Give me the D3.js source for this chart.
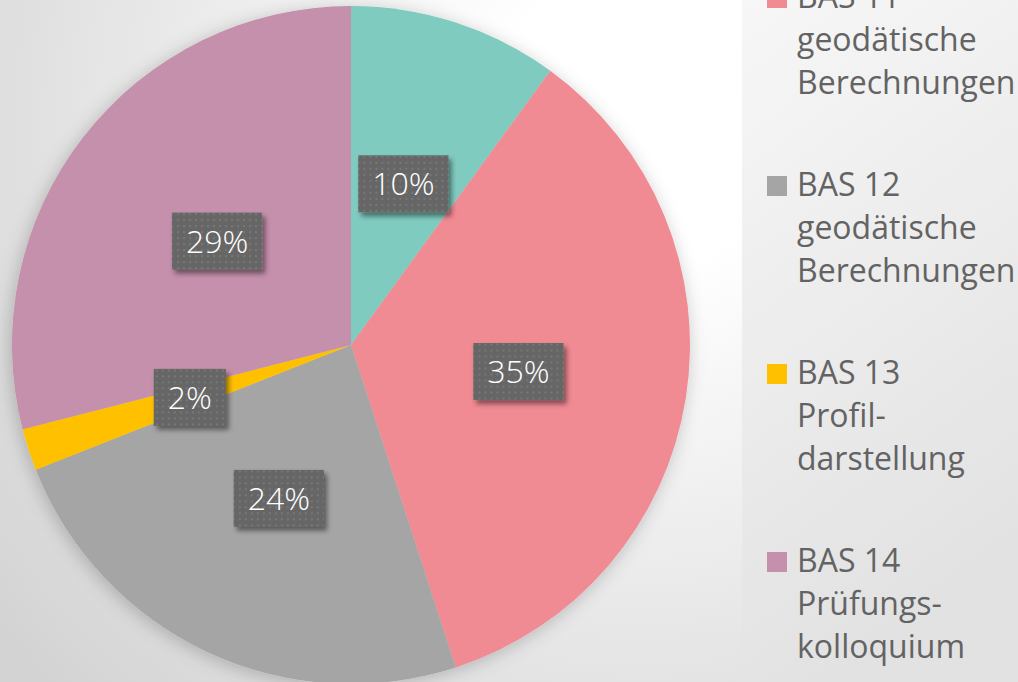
<!DOCTYPE html>
<html>
<head>
<meta charset="utf-8">
<script src="https://cdn.jsdelivr.net/npm/d3@7"></script>
<style>
  html, body { margin: 0; padding: 0; overflow: hidden; }
  svg { display: block; font-family: "Open Sans", "Noto Sans", sans-serif; }
</style>
</head>
<body>
<div id="chart"></div>
<script>
// module share data
const modules = ['BAS 10', 'BAS 11', 'BAS 12', 'BAS 13', 'BAS 14'];
const shares = [10, 35, 24, 2, 29];
const legendLines = [
    ['BAS 10', 'Grundlagen'],
    ['BAS 11', 'geodätische', 'Berechnungen'],
    ['BAS 12', 'geodätische', 'Berechnungen'],
    ['BAS 13', 'Profil-', 'darstellung'],
    ['BAS 14', 'Prüfungs-', 'kolloquium']
];
const colors = ['#80cbc0', '#f08a93', '#a5a5a5', '#ffc000', '#c490ab'];

const width = 1018, height = 682;
const cx = 351, cy = 345, radius = 339;

const svg = d3.select("#chart")
    .append("svg")
    .attr("width", width)
    .attr("height", height);

const defs = svg.append("defs");

// background gradient
const bg = defs.append("radialGradient")
    .attr("id", "bgGrad")
    .attr("gradientUnits", "userSpaceOnUse")
    .attr("cx", 640).attr("cy", 120).attr("r", 820);
bg.append("stop").attr("offset", "0%").attr("stop-color", "#ffffff");
bg.append("stop").attr("offset", "18%").attr("stop-color", "#ffffff");
bg.append("stop").attr("offset", "100%").attr("stop-color", "#d3d3d3");

const legGrad = defs.append("linearGradient")
    .attr("id", "legGrad")
    .attr("x1", 0).attr("y1", 0).attr("x2", 0.3).attr("y2", 1);
legGrad.append("stop").attr("offset", "0%").attr("stop-color", "#f7f7f7");
legGrad.append("stop").attr("offset", "100%").attr("stop-color", "#e2e2e2");

// soft glow under the pie
const pieShadow = defs.append("filter")
    .attr("id", "pieShadow")
    .attr("x", "-10%").attr("y", "-10%").attr("width", "120%").attr("height", "120%");
pieShadow.append("feDropShadow")
    .attr("dx", -2).attr("dy", 3)
    .attr("stdDeviation", 9)
    .attr("flood-color", "#000")
    .attr("flood-opacity", 0.22);

// label box shadow
const boxShadow = defs.append("filter")
    .attr("id", "boxShadow")
    .attr("x", "-20%").attr("y", "-20%").attr("width", "150%").attr("height", "160%");
boxShadow.append("feDropShadow")
    .attr("dx", 3).attr("dy", 4)
    .attr("stdDeviation", 2.5)
    .attr("flood-color", "#000")
    .attr("flood-opacity", 0.45);

// dotted pattern for label boxes
const dots = defs.append("pattern")
    .attr("id", "dots")
    .attr("patternUnits", "userSpaceOnUse")
    .attr("width", 6).attr("height", 6);
dots.append("rect").attr("width", 6).attr("height", 6).attr("fill", "#666666");
dots.append("rect").attr("x", 2).attr("y", 2).attr("width", 2).attr("height", 2).attr("fill", "#777777");

svg.append("rect")
    .attr("width", width).attr("height", height)
    .attr("fill", "url(#bgGrad)");

svg.append("rect")
    .attr("x", 742).attr("y", 0)
    .attr("width", width - 742).attr("height", height)
    .attr("fill", "url(#legGrad)");

// Pie
const pie = d3.pie().sort(null).value(d => d);
const arc = d3.arc().innerRadius(0).outerRadius(radius);
const arcs = pie(shares);

const g = svg.append("g")
    .attr("transform", `translate(${cx},${cy})`);

g.append("g")
    .attr("filter", "url(#pieShadow)")
    .selectAll("path")
    .data(arcs)
    .enter()
    .append("path")
    .attr("d", arc)
    .attr("fill", (d, i) => colors[i]);

// Data labels
const labels = g.selectAll(".lbl")
    .data(arcs)
    .enter()
    .append("g")
    .attr("class", "lbl")
    .attr("transform", d => `translate(${arc.centroid(d)})`);

labels.each(function(d) {
    const sel = d3.select(this);
    const txt = sel.append("text")
        .attr("text-anchor", "middle")
        .attr("y", 11.5)
        .attr("fill", "#ffffff")
        .attr("font-size", 32)
        .attr("font-weight", 300)
        .text(d.data + "%");
    const w = txt.node().getComputedTextLength() + 28;
    sel.insert("rect", "text")
        .attr("x", -w / 2)
        .attr("y", -28.5)
        .attr("width", w)
        .attr("height", 57)
        .attr("fill", "url(#dots)")
        .attr("filter", "url(#boxShadow)");
});

// Legend
const legendY = d3.scaleLinear().domain([0, 1]).range([-190, -2]);

const legend = svg.append("g")
    .selectAll("g")
    .data(modules)
    .enter()
    .append("g")
    .attr("transform", (d, i) => `translate(767,${legendY(i)})`);

legend.append("rect")
    .attr("x", 0).attr("y", -10)
    .attr("width", 20).attr("height", 20)
    .attr("fill", (d, i) => colors[i]);

legend.append("text")
    .attr("fill", "#636363")
    .attr("font-size", 32)
    .selectAll("tspan")
    .data((d, i) => legendLines[i])
    .enter()
    .append("tspan")
    .attr("x", 30)
    .attr("y", (d, j) => 10 + j * 43)
    .text(d => d);
</script>
</body>
</html>
